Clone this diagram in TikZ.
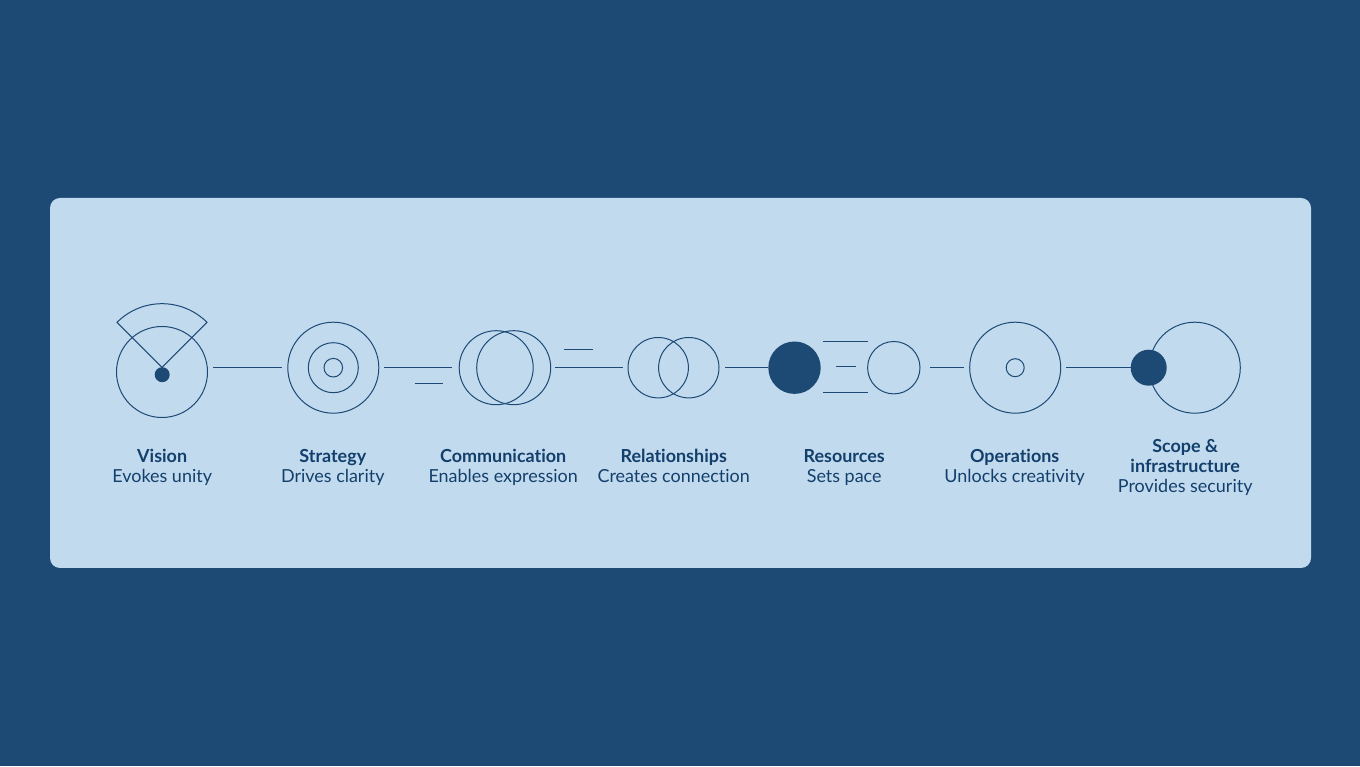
\documentclass[tikz,border=0pt]{standalone}
\usepackage{fontspec}
\setmainfont[Ligatures=NoCommon]{Lato}
\usetikzlibrary{positioning}
\definecolor{planback}{HTML}{1C4A75}
\definecolor{planpanel}{HTML}{C2DAEE}
\definecolor{planink}{HTML}{1C4A75}
\definecolor{plantext}{HTML}{123F6B}

\begin{document}
\begin{tikzpicture}[
  x=1pt, y=1pt,
  panel/.style={fill=planpanel, rounded corners=10pt, minimum width=1261pt, minimum height=370pt, inner sep=0pt, outer sep=0pt},
  ring/.style={circle, draw=planink, line width=1pt, minimum size=#1, inner sep=0pt, outer sep=0pt},
  solid dot/.style={circle, fill=planink, minimum size=#1, inner sep=0pt, outer sep=0pt},
  arr/.style={draw=planink, line width=1pt},
  caption/.style={anchor=north, align=center, text=plantext, font=\fontsize{17.95}{20}\selectfont, inner sep=0pt}
]
\useasboundingbox (0,0) rectangle (1360,766);
\fill[planback] (0,0) rectangle (1360,766);
\node[panel] (board) at (680.5,383) {};

\node[ring=91pt] (vision) at (162,394) {};
\draw[arr] (162,398.7) -- ++(135:63.6) arc (135:45:63.6) -- cycle;
\node[solid dot=15pt] (visiondot) at (162.2,391.3) {};

\node[ring=91pt] (strategy) at (333.3,398.3) {};
\node[ring=50pt] (strategymid) at (333.3,398.3) {};
\node[ring=18.6pt] (strategycore) at (333.3,398.3) {};

\node[ring=74pt] (commleft) at (496.2,398.3) {};
\node[ring=74pt] (commright) at (513.7,398.3) {};

\node[ring=60.4pt] (relleft) at (658.2,398.3) {};
\node[ring=60.4pt] (relright) at (688.8,398.3) {};

\node[solid dot=52.4pt] (resfull) at (794.5,398.3) {};
\node[ring=52.4pt] (resopen) at (893.8,398.3) {};

\node[ring=91pt] (ops) at (1015.2,398.3) {};
\node[ring=18pt] (opscore) at (1015.2,398.3) {};

\node[ring=91pt] (scope) at (1194.8,398.3) {};
\node[solid dot=36pt] (scopedot) at (1148.7,398.3) {};

\coordinate (dashcommA) at (414.5,382.7);
\coordinate (dashcommB) at (443,382.7);
\coordinate (dashrelA) at (564,416);
\coordinate (dashrelB) at (592.5,416);
\coordinate (dashtopA) at (823,424);
\coordinate (dashtopB) at (867.5,424);
\coordinate (dashmidA) at (836,399.3);
\coordinate (dashmidB) at (855.5,399.3);
\coordinate (dashlowA) at (823,373.3);
\coordinate (dashlowB) at (867.5,373.3);

\draw[arr, shorten <=5.5pt, shorten >=5.8pt] (strategy.west -| vision.east) -- (strategy.west);
\draw[arr, shorten <=5.2pt, shorten >=7pt] (strategy.east) -- (commleft.west);
\draw[arr, shorten <=4.3pt, shorten >=5pt] (commright.east) -- (relleft.west);
\draw[arr, shorten <=6pt] (relright.east) -- (resfull.west);
\draw[arr, shorten <=10pt, shorten >=5.7pt] (resopen.east) -- (ops.west);
\draw[arr, shorten <=5.3pt] (ops.east) -- (scopedot.west);
\draw[arr] (dashcommA) -- (dashcommB);
\draw[arr] (dashrelA) -- (dashrelB);
\draw[arr] (dashtopA) -- (dashtopB);
\draw[arr] (dashmidA) -- (dashmidB);
\draw[arr] (dashlowA) -- (dashlowB);

\node[caption] (visionlabel) at (162.2,318.5) {\rule{0pt}{15pt}\textbf{Vision}\\Evokes unity};
\node[caption] (strategylabel) at (332.8,318.5) {\rule{0pt}{15pt}\textbf{Strategy}\\Drives clarity};
\node[caption] (commlabel) at (503.2,318.5) {\rule{0pt}{15pt}\textbf{Communication}\\Enables expression};
\node[caption] (rellabel) at (673.7,318.5) {\rule{0pt}{15pt}\textbf{Relationships}\\Creates connection};
\node[caption] (reslabel) at (844.2,318.5) {\rule{0pt}{15pt}\textbf{Resources}\\Sets pace};
\node[caption] (opslabel) at (1014.7,318.5) {\rule{0pt}{15pt}\textbf{Operations}\\Unlocks creativity};
\node[caption] (scopelabel) at (1185.2,328.5) {\rule{0pt}{15pt}\textbf{Scope \&}\\\textbf{infrastructure}\\Provides security};
\end{tikzpicture}
\end{document}
